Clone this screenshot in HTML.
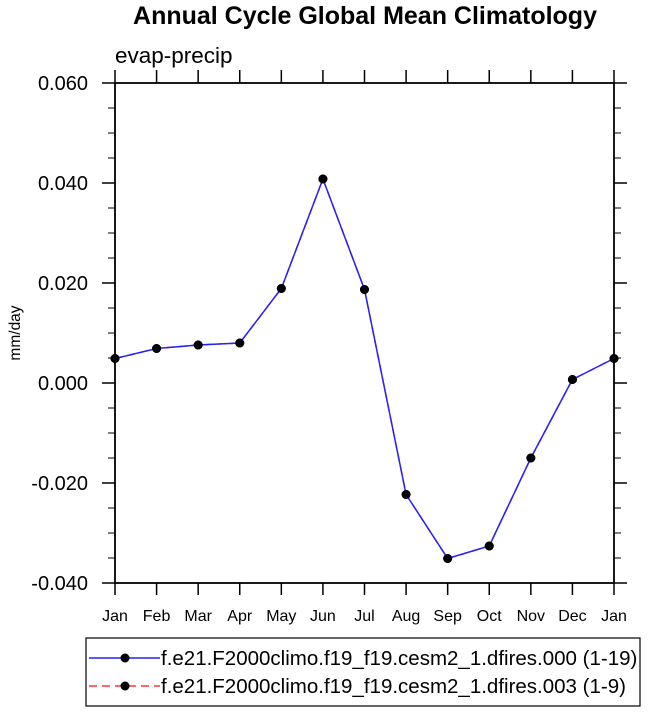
<!DOCTYPE html>
<html><head><meta charset="utf-8"><style>
body{margin:0;background:#fff;}
svg{display:block;font-family:"Liberation Sans",sans-serif;}
</style></head><body>
<svg width="648" height="713">
<g id="g"></g>
</svg>
<script>
const months=["Jan","Feb","Mar","Apr","May","Jun","Jul","Aug","Sep","Oct","Nov","Dec","Jan"];
const series1=[0.0049,0.0069,0.0076,0.0080,0.0189,0.0408,0.0187,-0.0223,-0.0351,-0.0326,-0.0150,0.0007,0.0049];
const series2=[0.0049,0.0069,0.0076,0.0080,0.0189,0.0408,0.0187,-0.0223,-0.0351,-0.0326,-0.0150,0.0007,0.0049];
const yTicks=[0.06,0.04,0.02,0,-0.02,-0.04];
const yTickLabels=["0.060","0.040","0.020","0.000","-0.020","-0.040"];
const legendLabels=["f.e21.F2000climo.f19_f19.cesm2_1.dfires.000 (1-19)","f.e21.F2000climo.f19_f19.cesm2_1.dfires.003 (1-9)"];
const X0=115,X1=614,Y0=83,Y1=583,YMAX=0.06,YMIN=-0.04;
const sx=i=>X0+(X1-X0)*i/(months.length-1);
const sy=v=>Y0+(YMAX-v)/(YMAX-YMIN)*(Y1-Y0);
const NS="http://www.w3.org/2000/svg",g=document.getElementById('g');
function el(t,a,txt){const e=document.createElementNS(NS,t);for(const k in a)e.setAttribute(k,a[k]);if(txt!=null)e.textContent=txt;g.appendChild(e);return e;}
let e;
e=el('text',{x:365,y:24,'text-anchor':'middle','font-size':25,'font-weight':'bold'},'Annual Cycle Global Mean Climatology');


e=el('text',{x:115,y:63,'font-size':22.5},'evap-precip');


e=el('text',{x:0,y:0,'font-size':15.5,'text-anchor':'middle',transform:'translate(20,333) rotate(-90)'},'mm/day');


for(let v=YMIN;v<=YMAX+1e-9;v+=0.005){const y=sy(v);
e=el('line',{x1:X0-7,x2:X0,y1:y,y2:y,stroke:'#000','stroke-width':1});


e=el('line',{x1:X1,x2:X1+7,y1:y,y2:y,stroke:'#000','stroke-width':1});

}
yTicks.forEach((v,i)=>{const y=sy(v);
e=el('line',{x1:X0-13,x2:X0,y1:y,y2:y,stroke:'#000','stroke-width':1.5});


e=el('line',{x1:X1,x2:X1+13,y1:y,y2:y,stroke:'#000','stroke-width':1.5});


e=el('text',{x:88,y:y+7,'text-anchor':'end','font-size':20},yTickLabels[i]);

});
months.forEach((m,i)=>{const x=sx(i);
e=el('line',{x1:x,x2:x,y1:Y1,y2:Y1+12,stroke:'#000','stroke-width':1.5});


e=el('line',{x1:x,x2:x,y1:Y0-13,y2:Y0,stroke:'#000','stroke-width':1.5});


e=el('text',{x:x,y:621,'text-anchor':'middle','font-size':16},m);

});
e=el('rect',{x:X0,y:Y0,width:X1-X0,height:Y1-Y0,fill:'none',stroke:'#000','stroke-width':1.8});


e=el('polyline',{points:series2.map((v,i)=>sx(i)+','+sy(v)).join(' '),fill:'none',stroke:'#f33','stroke-width':1.5,'stroke-dasharray':'8,5'});


e=el('polyline',{points:series1.map((v,i)=>sx(i)+','+sy(v)).join(' '),fill:'none',stroke:'#22f','stroke-width':1.5});


series1.forEach((v,i)=>{e=el('circle',{cx:sx(i),cy:sy(v),r:4.5,fill:'#000'});

});
series2.forEach((v,i)=>{e=el('circle',{cx:sx(i),cy:sy(v),r:4.5,fill:'#000'});

});
e=el('rect',{x:86,y:638,width:554,height:68,fill:'none',stroke:'#000','stroke-width':1.2});


[['#22f',null,658],['#f33','8,5',686]].forEach((s,i)=>{
const a={x1:89,x2:160,y1:s[2],y2:s[2],stroke:s[0],'stroke-width':1.5};if(s[1])a['stroke-dasharray']=s[1];
e=el('line',a);


e=el('circle',{cx:125,cy:s[2],r:4.5,fill:'#000'});


e=el('text',{x:161,y:s[2]+7,'font-size':20.5},legendLabels[i]);

});
</script>
</body></html>
